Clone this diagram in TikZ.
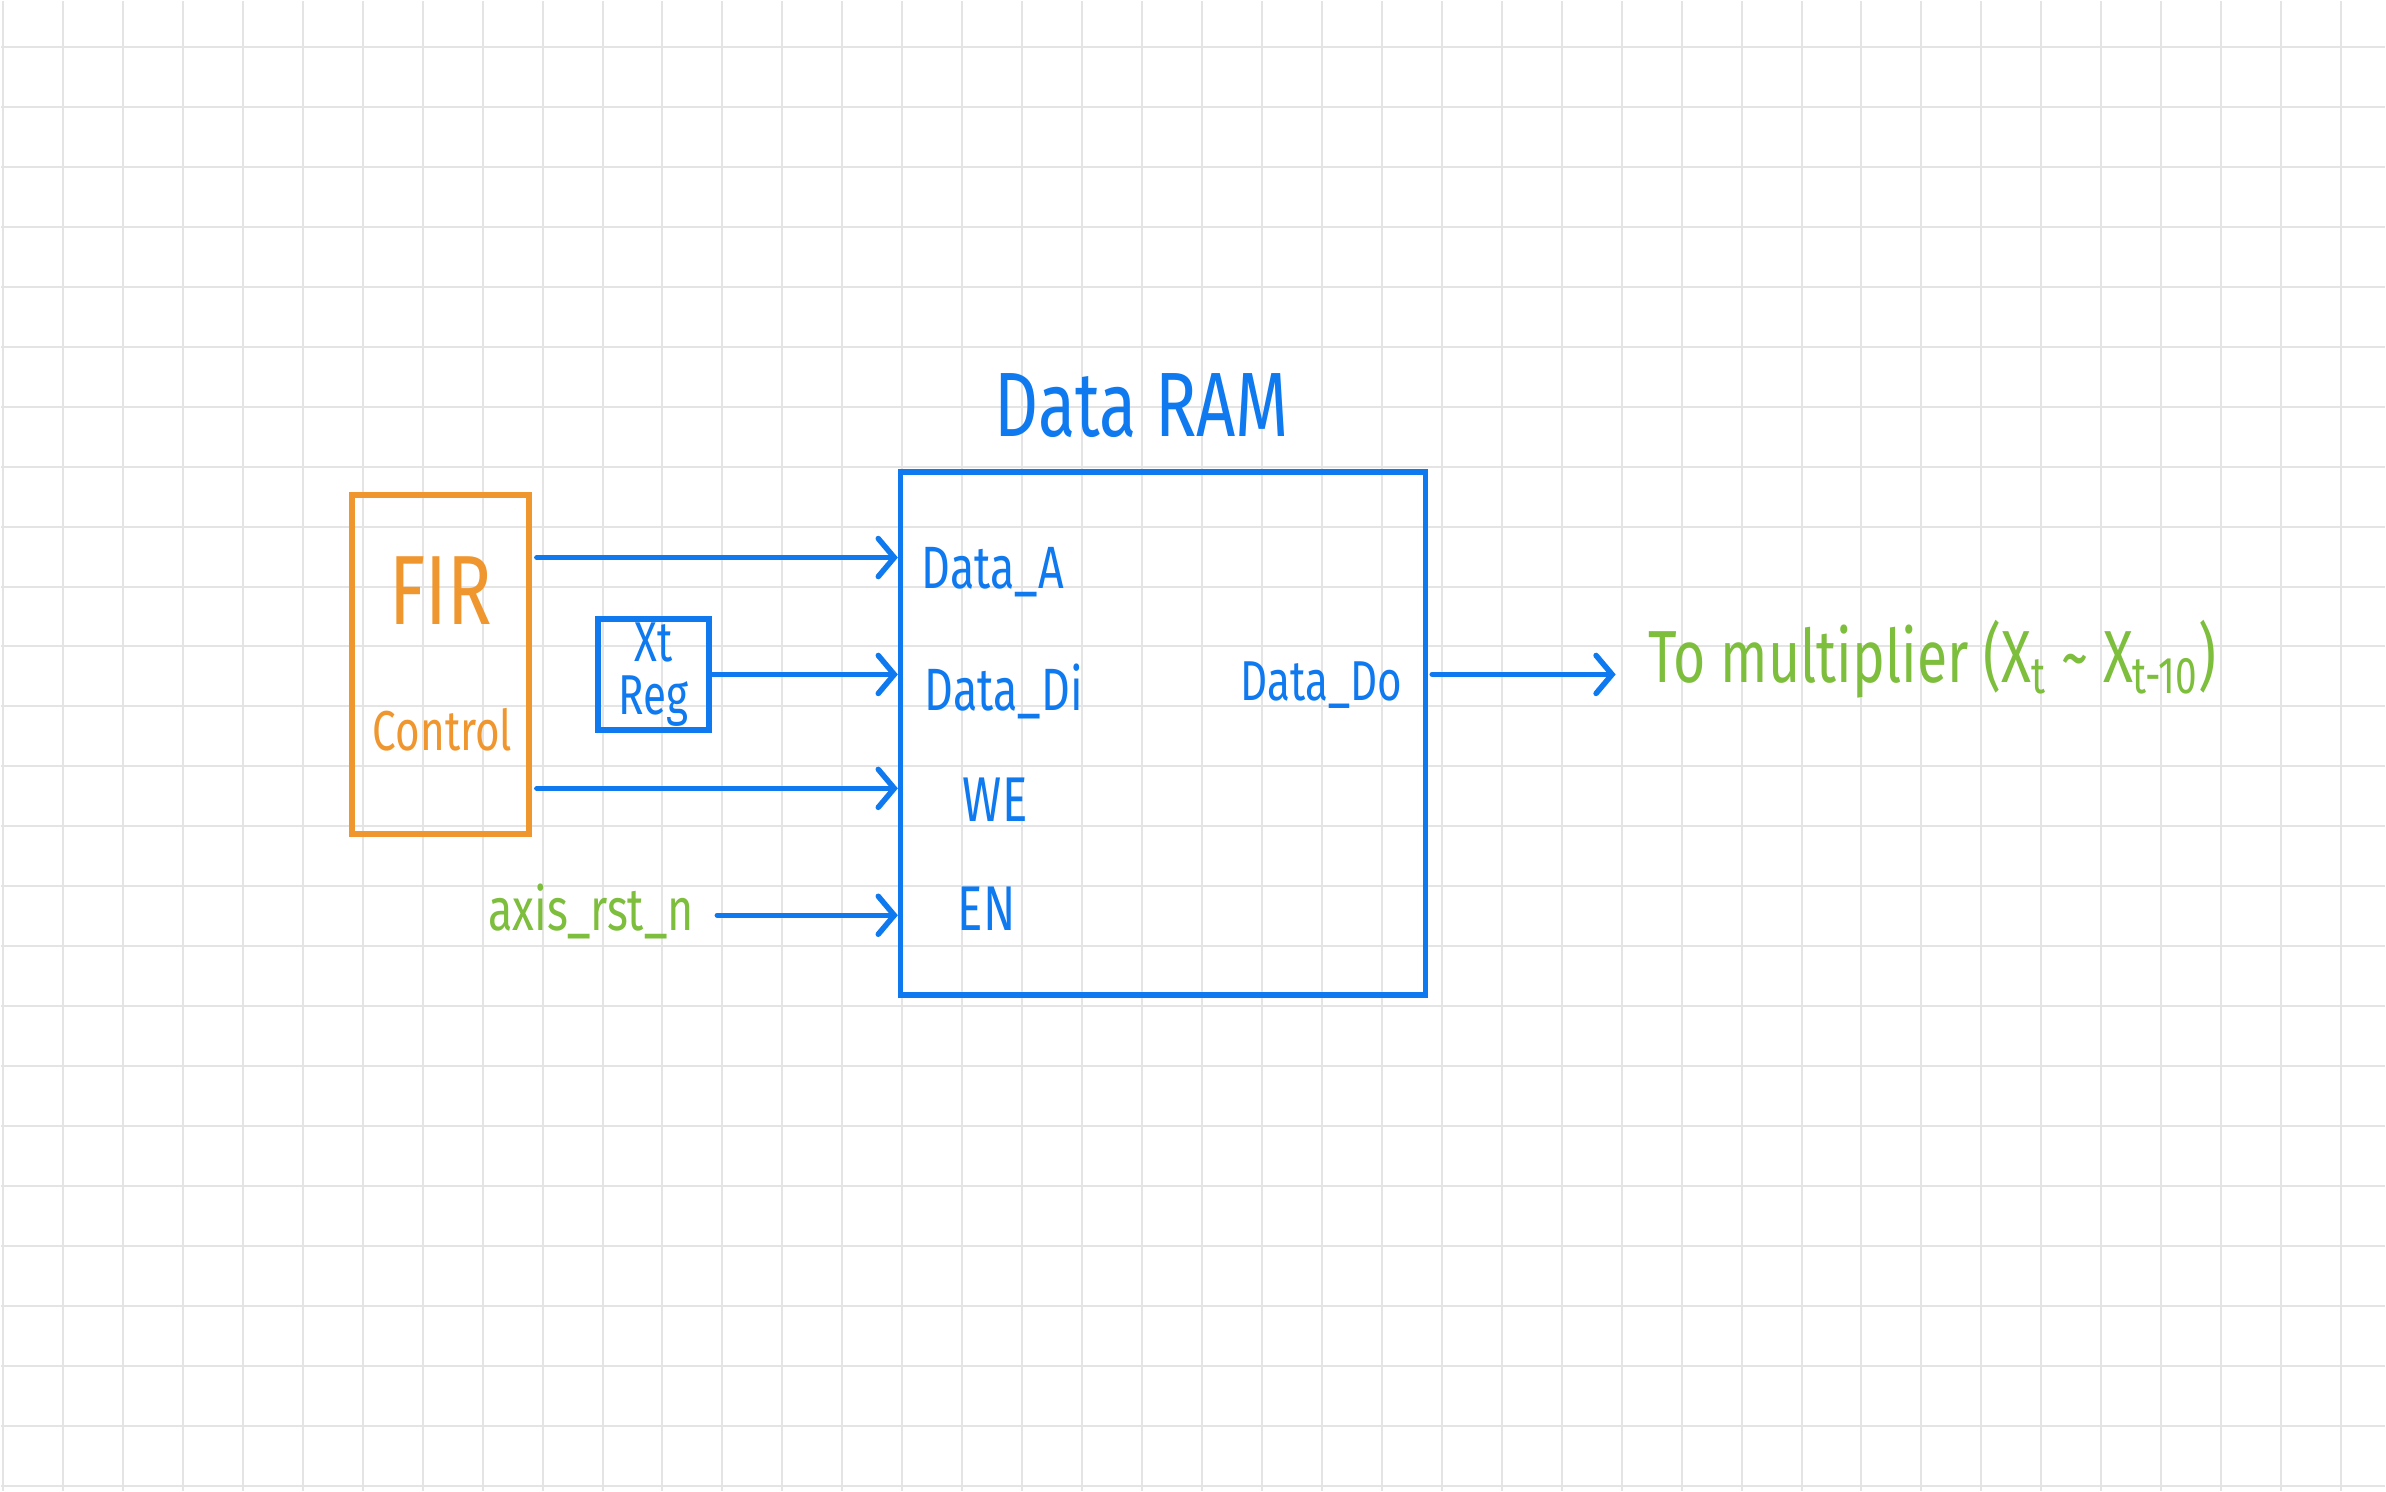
\documentclass[tikz,border=0pt]{standalone}
\usepackage{fontspec}
\setmainfont{Fira Sans}[FakeStretch=0.75]
\usetikzlibrary{arrows.meta}
\definecolor{penblue}{HTML}{0F7AEF}
\definecolor{penorange}{HTML}{F0962F}
\definecolor{pengreen}{HTML}{7DBE3C}
\definecolor{paper}{HTML}{E4E4E4}
\tikzset{
  gridline/.style={draw=paper, line width=0.02cm},
  block/.style={draw=#1, line width=0.055cm, inner sep=0pt},
  wire/.style={draw=penblue, line width=0.055cm, line cap=round,
    -{Straight Barb[length=0.16cm, width=0.38cm, line cap=round]}},
  hand/.style={text=#1, inner sep=0pt},
}
\begin{document}
\begin{tikzpicture}[x=0.01cm, y=-0.01cm]
% paper
\fill[white] (0,0) rectangle (2386,1491);
\foreach \gx in {0,...,39} \draw[gridline] (2+60*\gx,0) -- (2+60*\gx,1491);
\foreach \gy in {0,...,24} \draw[gridline] (0,46+60*\gy) -- (2386,46+60*\gy);
\useasboundingbox (0,0) rectangle (2386,1491);

% blocks
\node[block=penorange, minimum width=1.77cm, minimum height=3.39cm] (fir) at (440,664) {};
\node[hand=penorange, anchor=base, font=\fontsize{28}{30}\selectfont] (firtxt) at (440,624) {FIR};
\node[hand=penorange, anchor=base, font=\fontsize{16}{20}\selectfont] (ctrltxt) at (442,750) {Control};

\node[block=penblue, minimum size=1.11cm, align=center, text=penblue,
  font=\fontsize{16}{15}\selectfont] (xtreg) at (653,674) {Xt\\Reg};

\node[block=penblue, minimum width=5.25cm, minimum height=5.23cm] (ram) at (1163,733) {};
\node[hand=penblue, anchor=base, font=\fontsize{26}{28}\selectfont] (title) at (1142,436) {Data RAM};

% ports
\node[hand=penblue, anchor=base west, font=\fontsize{17}{20}\selectfont] (pa) at (921,588) {Data\_A};
\node[hand=penblue, anchor=base west, font=\fontsize{17}{20}\selectfont] (pdi) at (924,710) {Data\_Di};
\node[hand=penblue, anchor=base west, font=\fontsize{18}{20}\selectfont] (pwe) at (962,821) {WE};
\node[hand=penblue, anchor=base west, font=\fontsize{18}{20}\selectfont] (pen) at (957,930) {EN};
\node[hand=penblue, anchor=base east, font=\fontsize{16}{20}\selectfont] (pdo) at (1403,700) {Data\_Do};

% green notes
\node[hand=pengreen, anchor=base west, font=\fontsize{17}{20}\selectfont] (rst) at (487,930) {axis\_rst\_n};
\node[hand=pengreen, anchor=base west, font=\fontsize{21}{24}\selectfont] (multxt) at (1648,682)
  {To multiplier (X\textsubscript{t} \textasciitilde{} X\textsubscript{t-10})};
\coordinate (mul) at (1616,674);

% connectors
\draw[wire, shorten <=0.05cm] (fir.east |- 0,557) -- (ram.west |- 0,557);
\draw[wire] (xtreg.east) -- (ram.west |- xtreg.east);
\draw[wire, shorten <=0.05cm] (fir.east |- 0,788) -- (ram.west |- 0,788);
\draw[wire, shorten <=0.23cm] (rst.east |- 0,915) -- (ram.west |- 0,915);
\draw[wire, shorten <=0.04cm] (ram.east |- mul) -- (mul);
\end{tikzpicture}
\end{document}
